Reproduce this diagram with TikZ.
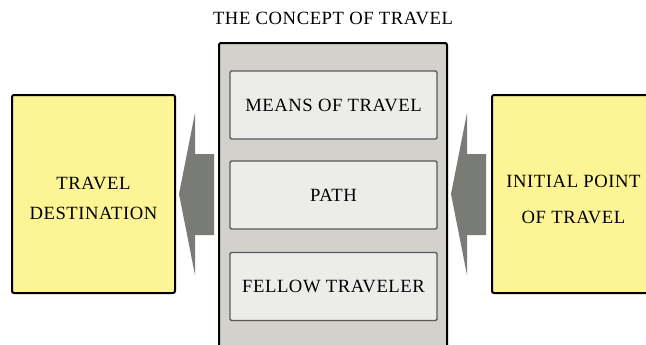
\documentclass[tikz,border=0pt]{standalone}
\usepackage{fontspec}
\setmainfont{Liberation Serif}[LetterSpace=3]
\definecolor{paleyellow}{RGB}{253,244,150}
\definecolor{boxgray}{RGB}{210,209,204}
\definecolor{innergray}{RGB}{236,236,234}
\definecolor{arrowgray}{RGB}{120,123,118}
\tikzset{
	endbox/.style={draw=black, line width=1.5pt, fill=paleyellow, rounded corners=1.5pt,
		minimum width=122.25pt, minimum height=148.5pt, inner sep=0pt, align=center,
		font=\fontsize{14}{22.5}\selectfont},
	partbox/.style={draw=black!65, line width=1.1pt, fill=innergray, rounded corners=1pt,
		minimum width=155.25pt, minimum height=51pt, inner sep=0pt,
		font=\fontsize{14}{17}\selectfont},
	bigarrow/.style={fill=arrowgray}
}
\begin{document}
\begin{tikzpicture}[x=0.75pt, y=-0.75pt]
		\useasboundingbox (0,0) rectangle (646,344);
		
		% Titel
		\node (title) at (333,18) {\fontsize{14}{17}\selectfont THE CONCEPT OF TRAVEL};
		
		% Mittlerer Kasten
		\node[draw=black, line width=1.5pt, fill=boxgray, rounded corners=1.5pt,
			minimum width=171pt, minimum height=237.75pt, inner sep=0pt] (concept) at (333,201.5) {};
		\node[partbox] (means) at (333.5,105) {MEANS OF TRAVEL};
		\node[partbox] (path) at (333.5,195) {PATH};
		\node[partbox] (fellow) at (333.5,286.5) {FELLOW TRAVELER};
		
		% Anfang und Ziel
		\node[endbox] (dest) at (93.5,194) {};
		\node[align=center, font=\fontsize{14}{22.5}\selectfont] (desttext) at (dest.center) [yshift=-3pt] {TRAVEL\\DESTINATION};
		\node[endbox] (start) at (573.5,194) {};
		\node[align=center, font=\fontsize{14}{27}\selectfont] (starttext) at (start.center) [yshift=-4pt] {INITIAL POINT\\OF TRAVEL};
		
		% Pfeile
		\fill[bigarrow] (179,194) -- (195,113) -- (195,154) -- (214,154) -- (214,235) -- (195,235) -- (195,275) -- cycle;
		\fill[bigarrow] (451,194) -- (467,113) -- (467,154) -- (486,154) -- (486,235) -- (467,235) -- (467,275) -- cycle;
		
	\end{tikzpicture}
\end{document}
